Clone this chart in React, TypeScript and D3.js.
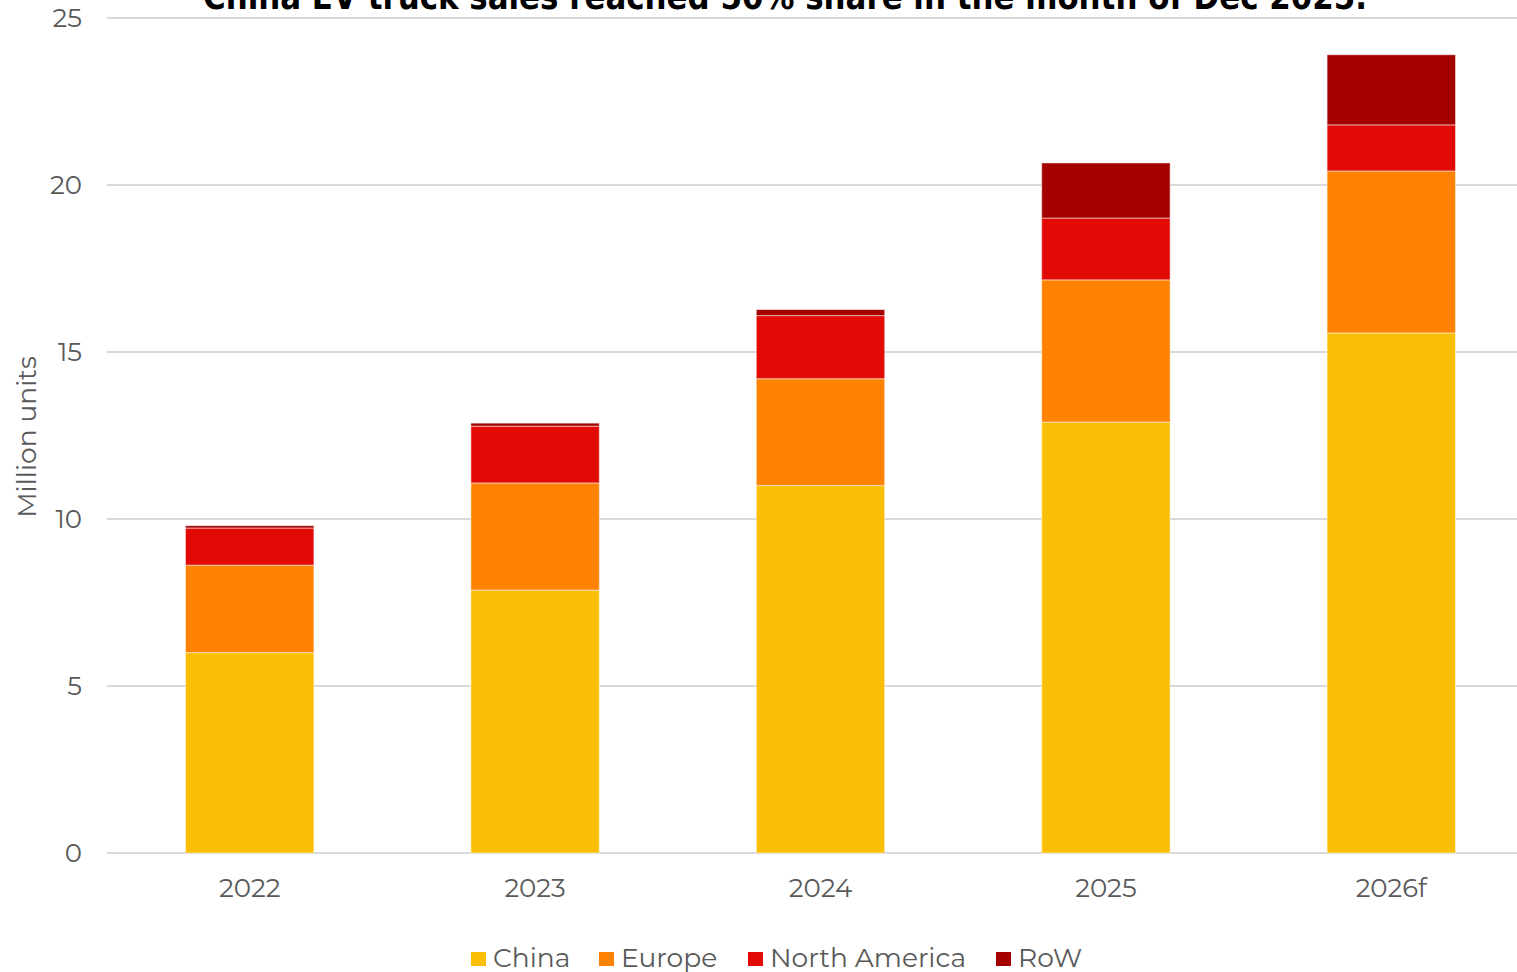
import React from "react";
import * as d3 from "d3";

const years = ["2022", "2023", "2024", "2025", "2026f"];
const china = [6.0, 7.87, 11.0, 12.9, 15.57];
const europe = [2.62, 3.21, 3.2, 4.26, 4.85];
const northAmerica = [1.11, 1.7, 1.89, 1.85, 1.38];
const row = [0.07, 0.09, 0.18, 1.65, 2.1];
const seriesNames = ["China", "Europe", "North America", "RoW"];
const colors = ["#FABF05", "#FF8200", "#E10A05", "#A50000"];
const yTicks = [0, 5, 10, 15, 20, 25];
const title = "China EV truck sales reached 50% share in the month of Dec 2025.";

const W = 1517;
const H = 972;
const FONT = "Montserrat, 'Open Sans', 'Noto Sans', sans-serif";

export default function App() {
  const rows = years.map((y, i) => ({
    year: y,
    China: china[i],
    Europe: europe[i],
    "North America": northAmerica[i],
    RoW: row[i],
  }));
  const stack = d3.stack<any>().keys(seriesNames)(rows);
  const x = d3.scaleBand().domain(years).range([107, 1534]).paddingInner(0.55).paddingOuter(0.275);
  const y = d3.scaleLinear().domain([0, 25]).range([853, 18]);

  const legendX = [471, 599, 748, 996];

  return (
    <svg width={W} height={H} style={{ position: "absolute", left: 0, top: 0, background: "#fff" }}>
      <text
        x={785}
        y={9}
        textAnchor="middle"
        fontFamily="'DejaVu Sans Condensed', 'Liberation Sans Narrow', sans-serif"
        fontWeight="bold"
        fontSize={36}
        textLength={1164}
        lengthAdjust="spacingAndGlyphs"
        fill="#000"
      >
        {title}
      </text>
      {yTicks.map((t) => (
        <g key={t}>
          <line x1={107} x2={1534} y1={y(t)} y2={y(t)} stroke="#D9D9D9" strokeWidth={2} />
          <text x={82} y={y(t)} dy="0.36em" textAnchor="end" fontFamily={FONT} fontSize={26} fill="#595959">
            {t}
          </text>
        </g>
      ))}
      <text
        transform={`translate(36,${437}) rotate(-90)`}
        textAnchor="middle"
        fontFamily={FONT}
        fontSize={26.5}
        fill="#595959"
      >
        Million units
      </text>
      {stack.map((s, si) => (
        <g key={s.key}>
          {s.map((d, i) => (
            <rect
              key={i}
              x={x(years[i])}
              width={x.bandwidth()}
              y={y(d[1])}
              height={y(d[0]) - y(d[1])}
              fill={colors[si]}
              stroke="#fff"
              strokeOpacity={0.5}
              strokeWidth={1}
            />
          ))}
        </g>
      ))}
      {years.map((yr) => (
        <text
          key={yr}
          x={(x(yr) as number) + x.bandwidth() / 2}
          y={897}
          textAnchor="middle"
          fontFamily={FONT}
          fontSize={26}
          fill="#595959"
        >
          {yr}
        </text>
      ))}
      {seriesNames.map((n, i) => (
        <g key={n}>
          <rect x={legendX[i]} y={952} width={15} height={14} fill={colors[i]} />
          <text x={legendX[i] + 22} y={967} fontFamily={FONT} fontSize={26.5} fill="#595959">
            {n}
          </text>
        </g>
      ))}
    </svg>
  );
}
